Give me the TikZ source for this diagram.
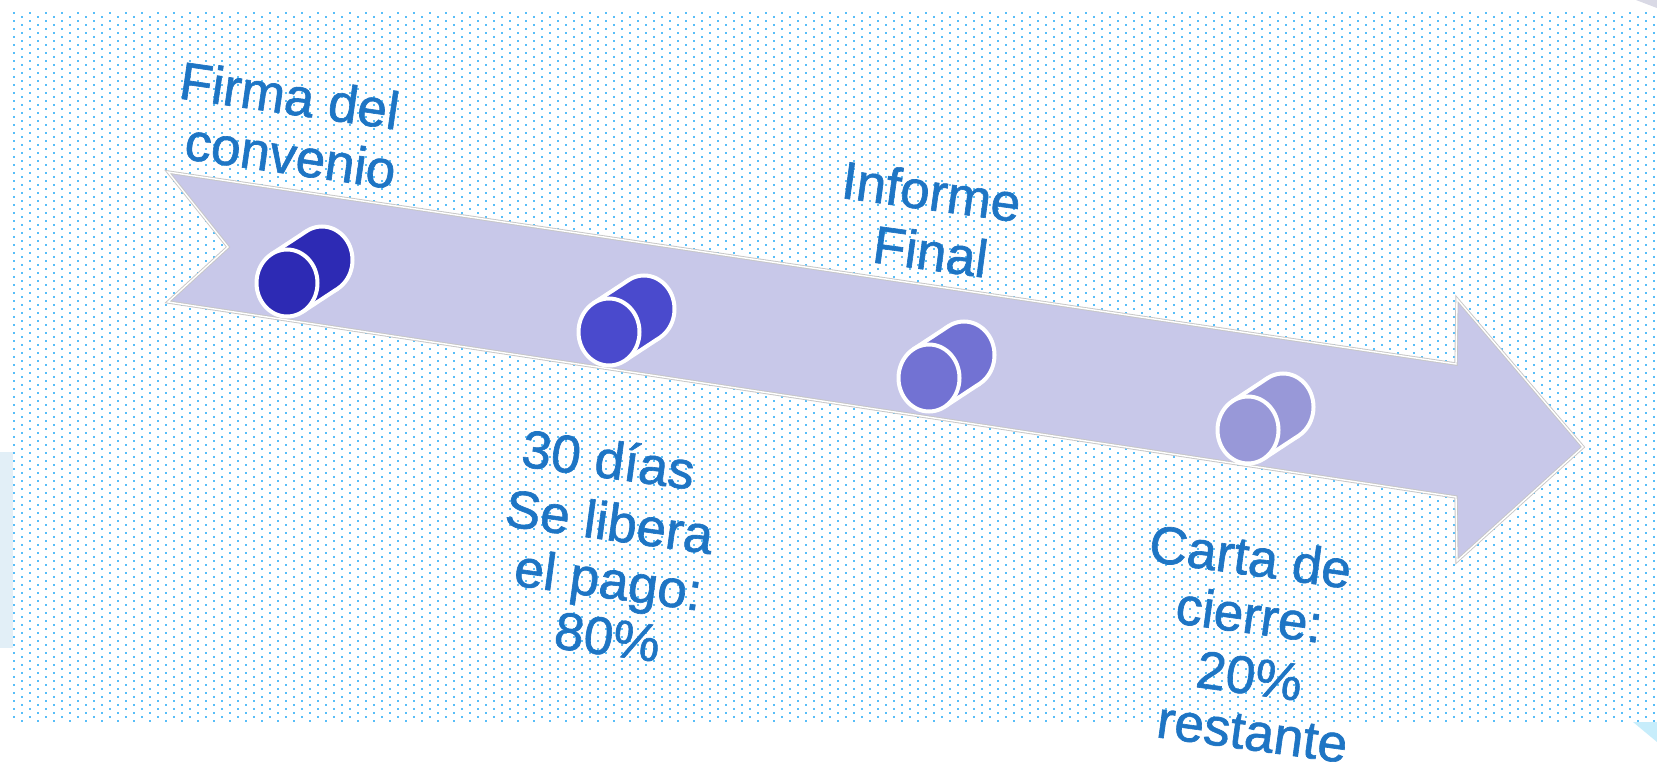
\documentclass[tikz,border=0pt]{standalone}
\usepackage{fontspec}
\setmainfont{Liberation Sans}
\newfontfamily\lblfont[FakeBold=1.2]{Liberation Sans}
\definecolor{dotblue}{RGB}{88,190,248}
\definecolor{arrowfill}{RGB}{200,200,233}
\definecolor{textblue}{RGB}{30,117,196}
\definecolor{cylA}{RGB}{45,42,180}
\definecolor{cylB}{RGB}{74,74,205}
\definecolor{cylC}{RGB}{114,114,211}
\definecolor{cylD}{RGB}{152,152,216}
\definecolor{edgeblue}{RGB}{226,239,247}
\newcommand\mycyl[3]{%
  \begin{scope}[shift={(#1,#2)}]
    \draw[fill=#3, draw=white, line width=4] (35,-23) ellipse[x radius=30.5, y radius=33.5];
    \fill[#3] (-15.7,-28.7) -- (19.3,-51.7) -- (50.7,5.7) -- (15.7,28.7) -- cycle;
    \draw[white, line width=4, line cap=round] (-15.7,-28.7) -- (19.3,-51.7) (50.7,5.7) -- (15.7,28.7);
    \draw[fill=#3, draw=white, line width=4] (0,0) ellipse[x radius=30.5, y radius=33.5];
  \end{scope}}
\tikzset{
  lbl/.style={anchor=base, inner sep=0pt, text=textblue, rotate=-7.8,
    font=\lblfont\fontsize{53pt}{59pt}\selectfont},
  dotrow/.style={draw=dotblue, line width=2pt, dash pattern=on 2pt off 14pt},
}
\begin{document}
\begin{tikzpicture}[x=1pt, y=-1pt]
\useasboundingbox (0,0) rectangle (1657,770);
\fill[white] (0,0) rectangle (1657,770);
% faint background remnants
\fill[edgeblue] (0,452) rectangle (13,648);
\fill[blue!20!gray!25] (1636,0) -- (1657,0) -- (1657,8) -- cycle;
\fill[cyan!22] (1633,722) -- (1657,722) -- (1657,742) -- cycle;
% dotted field
\foreach \i in {0,...,177}{
  \pgfmathsetmacro{\yy}{13+4*\i}
  \pgfmathsetmacro{\xx}{ifthenelse(mod(\i,2)==0,13,21)}
  \draw[dotrow] (\xx,\yy) -- (1660,\yy);
}
% arrow
\coordinate (tt) at (168,172);
\coordinate (st) at (1456,364);
\coordinate (ht) at (1457,299);
\coordinate (tip) at (1583,447);
\coordinate (hb) at (1457,561);
\coordinate (sb) at (1456,497);
\coordinate (tb) at (168,302);
\coordinate (nt) at (228,247);
\draw[draw=gray!45, line width=3.2, fill=arrowfill, line join=miter]
  (tt) -- (st) -- (ht) -- (tip) -- (hb) -- (sb) -- (tb) -- (nt) -- cycle;
\draw[draw=white, line width=1.4, line join=miter]
  (tt) -- (st) -- (ht) -- (tip) -- (hb) -- (sb) -- (tb) -- (nt) -- cycle;
% cylinders
\mycyl{287}{283}{cylA}
\mycyl{609}{332}{cylB}
\mycyl{929}{378}{cylC}
\mycyl{1248}{430}{cylD}
% labels
\node[lbl, rotate=-0.4] (f1) at (287,114) {Firma del};
\node[lbl, rotate=-0.4] (f2) at (288,174) {convenio};
\node[lbl] (i1) at (929,210) {Informe};
\node[lbl] (i2) at (928,270) {Final};
\node[lbl] (d1) at (606,478) {30 días};
\node[lbl] (d2) at (607,540) {Se libera};
\node[lbl] (d3) at (606,598) {el pago:};
\node[lbl] (d4) at (605,655) {80\%};
\node[lbl] (c1) at (1248,575) {Carta de};
\node[lbl] (c2) at (1247,633) {cierre:};
\node[lbl] (c3) at (1247,694) {20\%};
\node[lbl] (c4) at (1250,750) {restante};
\end{tikzpicture}
\end{document}
